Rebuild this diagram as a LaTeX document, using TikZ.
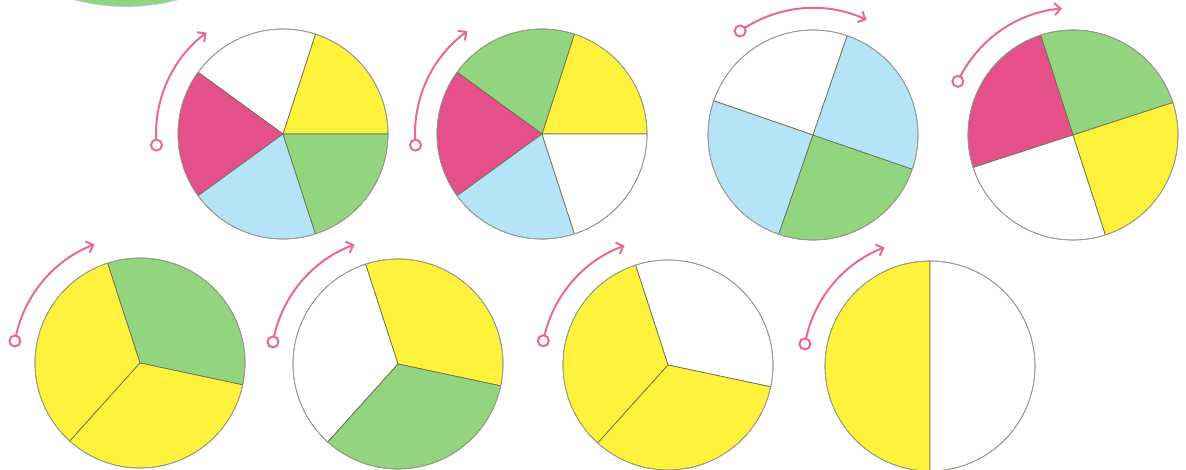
\documentclass[tikz,border=0pt]{standalone}
\usetikzlibrary{arrows.meta,calc}
\definecolor{pyellow}{HTML}{FFF23C}
\definecolor{pgreen}{HTML}{93D57E}
\definecolor{pblue}{HTML}{B5E4F8}
\definecolor{pmagenta}{HTML}{E5508A}
\definecolor{ppink}{HTML}{E8689B}
\definecolor{segline}{HTML}{6E6E50}
\definecolor{rimline}{HTML}{A0A0A0}
\newcommand\piewedge[4]{%
  \fill[#4, draw=segline, line width=0.7pt, line join=round]
    (#1) -- ++(#2:105pt) arc[start angle=#2, end angle=#3, radius=105pt] -- cycle;}
\newcommand\pierim[1]{\draw[rimline, line width=0.6pt] (#1) circle[radius=105pt];}
\newcommand\turnarrow[3]{%
  \draw[turnline] (#1) ++(#2:127pt) arc[start angle=#2, end angle=#3, radius=127pt];
  \draw[turnring] (#1) ++(#2:127pt) circle[radius=5.5pt];}
\tikzset{
  turnline/.style={ppink, line width=2pt, -{Straight Barb[length=6pt,width=12pt,line width=2pt]}},
  turnring/.style={ppink, line width=2pt, fill=white}
}
\begin{document}
\begin{tikzpicture}[x=1pt,y=1pt]
\path[use as bounding box, fill=white] (0,0) rectangle (1186,-469);
% partial circle at the top edge
\begin{scope}
\clip (0,0) rectangle (1186,-469);
\fill[pgreen, draw=pblue!80!gray, line width=0.7pt] (126,193.5) circle[radius=200pt];
\end{scope}
% centres
\coordinate (c1) at (283,-134);
\coordinate (c2) at (542,-134);
\coordinate (c3) at (813,-135);
\coordinate (c4) at (1073,-135);
\coordinate (c5) at (140,-363);
\coordinate (c6) at (398,-364);
\coordinate (c7) at (668,-365);
\coordinate (c8) at (930,-366);
% circle 1
\piewedge{c1}{0}{72}{pyellow}
\piewedge{c1}{72}{144}{white}
\piewedge{c1}{144}{216}{pmagenta}
\piewedge{c1}{216}{288}{pblue}
\piewedge{c1}{288}{360}{pgreen}
\pierim{c1}
\turnarrow{c1}{185}{127}
% circle 2
\piewedge{c2}{0}{72}{pyellow}
\piewedge{c2}{72}{144}{pgreen}
\piewedge{c2}{144}{216}{pmagenta}
\piewedge{c2}{216}{288}{pblue}
\piewedge{c2}{288}{360}{white}
\pierim{c2}
\turnarrow{c2}{185}{126}
% circle 3
\piewedge{c3}{71}{161}{white}
\piewedge{c3}{161}{251}{pblue}
\piewedge{c3}{251}{341}{pgreen}
\piewedge{c3}{341}{431}{pblue}
\pierim{c3}
\turnarrow{c3}{125}{65}
% circle 4
\piewedge{c4}{18}{108}{pgreen}
\piewedge{c4}{108}{198}{pmagenta}
\piewedge{c4}{198}{288}{white}
\piewedge{c4}{288}{378}{pyellow}
\pierim{c4}
\turnarrow{c4}{155}{95}
% circle 5
\piewedge{c5}{-12}{108}{pgreen}
\piewedge{c5}{108}{228}{pyellow}
\piewedge{c5}{228}{348}{pyellow}
\pierim{c5}
\turnarrow{c5}{170}{111}
% circle 6
\piewedge{c6}{-12}{108}{pyellow}
\piewedge{c6}{108}{228}{white}
\piewedge{c6}{228}{348}{pgreen}
\pierim{c6}
\turnarrow{c6}{170}{110}
% circle 7
\piewedge{c7}{-12}{108}{white}
\piewedge{c7}{108}{228}{pyellow}
\piewedge{c7}{228}{348}{pyellow}
\pierim{c7}
\turnarrow{c7}{169}{110}
% circle 8
\piewedge{c8}{90}{270}{pyellow}
\piewedge{c8}{270}{450}{white}
\pierim{c8}
\turnarrow{c8}{170}{111}
\end{tikzpicture}
\end{document}
